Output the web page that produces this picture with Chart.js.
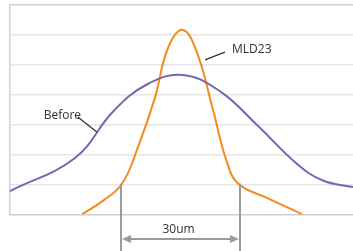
<!DOCTYPE html>
<html>
<head>
<meta charset="utf-8">
<script src="https://cdn.jsdelivr.net/npm/chart.js@4/dist/chart.umd.min.js"></script>
<style>
  html, body { margin: 0; padding: 0; background: #fff; }
  #wrap { width: 353px; height: 251px; position: relative; }
</style>
</head>
<body>
<div id="wrap"><canvas id="chart"></canvas></div>
<script>
// position across the profile (um) and relative intensity
const beforeX = [-43, -26.6, -17, -8.5, 0.6, 10, 19.3, 29.4, 35.9, 43.5];
const beforeY = [0.8, 1.9, 3.45, 4.35, 4.67, 4.12, 3.0, 1.7, 1.15, 0.93];
const mldX = [-24.8, -19.5, -14.7, -10.7, -6.4, -3.2, 0.6, 4.2, 8.2, 11.5, 14.5, 21.8, 30.6];
const mldY = [0.03, 0.48, 1.05, 2.27, 3.93, 5.55, 6.17, 5.4, 3.5, 1.85, 1.05, 0.57, 0.03];
const yTicks = [0, 1, 2, 3, 4, 5, 6, 7];
const widthMarks = [-15, 15];
const widthLabel = "30um";

const toPoints = (xs, ys) => xs.map((x, i) => ({ x: x, y: ys[i] }));

const notes = {
  id: "notes",
  afterDatasetsDraw(chart) {
    const ctx = chart.ctx;
    const xs = chart.scales.x;
    const ys = chart.scales.y;
    const bottom = chart.height;
    ctx.save();

    // width markers
    ctx.strokeStyle = "#9a9a9a";
    ctx.fillStyle = "#9a9a9a";
    ctx.lineWidth = 2;
    const xa = xs.getPixelForValue(widthMarks[0]);
    const xb = xs.getPixelForValue(widthMarks[1]);
    const top = ys.getPixelForValue(1.05);
    [xa, xb].forEach((x) => {
      ctx.beginPath();
      ctx.moveTo(x, top);
      ctx.lineTo(x, bottom);
      ctx.stroke();
    });
    const ay = ys.bottom + 24;
    ctx.beginPath();
    ctx.moveTo(xa + 6, ay);
    ctx.lineTo(xb - 6, ay);
    ctx.stroke();
    ctx.beginPath();
    ctx.moveTo(xa + 1, ay);
    ctx.lineTo(xa + 10, ay - 4);
    ctx.lineTo(xa + 10, ay + 4);
    ctx.closePath();
    ctx.fill();
    ctx.beginPath();
    ctx.moveTo(xb - 1, ay);
    ctx.lineTo(xb - 10, ay - 4);
    ctx.lineTo(xb - 10, ay + 4);
    ctx.closePath();
    ctx.fill();

    ctx.fillStyle = "#333";
    ctx.font = "12px 'Open Sans', sans-serif";
    ctx.textAlign = "center";
    ctx.textBaseline = "middle";
    ctx.fillText(widthLabel, (xa + xb) / 2 - 2, ay - 9);

    // series labels with leader lines
    ctx.strokeStyle = "#333";
    ctx.lineWidth = 1.3;
    ctx.beginPath();
    ctx.moveTo(xs.getPixelForValue(-25.9), ys.getPixelForValue(3.27));
    ctx.lineTo(xs.getPixelForValue(-21.1), ys.getPixelForValue(2.77));
    ctx.moveTo(xs.getPixelForValue(6.2), ys.getPixelForValue(5.17));
    ctx.lineTo(xs.getPixelForValue(11.2), ys.getPixelForValue(5.43));
    ctx.stroke();

    ctx.textAlign = "left";
    ctx.fillText("Before", xs.getPixelForValue(-34.5), ys.getPixelForValue(3.3));
    ctx.fillText("MLD23", xs.getPixelForValue(13), ys.getPixelForValue(5.5));
    ctx.restore();
  }
};

new Chart(document.getElementById("chart"), {
  type: "line",
  data: {
    datasets: [
      {
        label: "Before",
        data: toPoints(beforeX, beforeY),
        borderColor: "#7567b3",
        borderWidth: 2,
        pointRadius: 0,
        tension: 0.4,
        fill: false
      },
      {
        label: "MLD23",
        data: toPoints(mldX, mldY),
        borderColor: "#f5891f",
        borderWidth: 2,
        pointRadius: 0,
        tension: 0.4,
        fill: false
      }
    ]
  },
  options: {
    responsive: true,
    maintainAspectRatio: false,
    animation: false,
    layout: { padding: { left: 10, top: 5, right: 0, bottom: 36 } },
    plugins: {
      legend: { display: false },
      tooltip: { enabled: false }
    },
    scales: {
      x: {
        type: "linear",
        min: -43,
        max: 43.5,
        display: false
      },
      y: {
        min: yTicks[0],
        max: yTicks[yTicks.length - 1],
        afterBuildTicks: (axis) => {
          axis.ticks = yTicks.map((v) => ({ value: v }));
        },
        ticks: { display: false },
        grid: {
          drawTicks: false,
          lineWidth: 1.5,
          color: (c) =>
            c.tick && (c.tick.value === 0 || c.tick.value === 7) ? "#cfcfcf" : "#e6e6e6"
        },
        border: { display: true, color: "#d0d0d0", width: 1.5 }
      }
    }
  },
  plugins: [notes]
});
</script>
</body>
</html>
